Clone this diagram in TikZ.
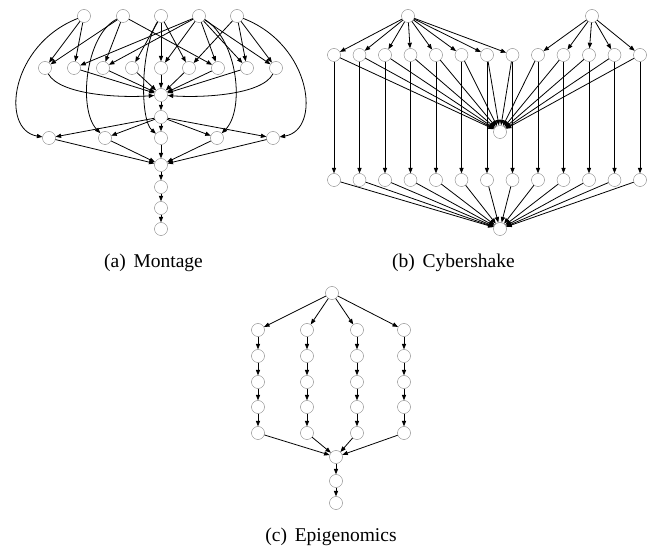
\documentclass[tikz,border=0pt]{standalone}
\usepackage{fontspec}
\setmainfont{Liberation Serif}
\usetikzlibrary{arrows.meta}

\tikzset{
	task/.style={circle,draw=gray,inner sep=0pt,minimum size=13pt},
	dep/.style={-{Triangle[length=5.5pt,width=4.2pt]},line width=0.8pt},
	caption/.style={anchor=base,font=\fontsize{19.5}{23}\selectfont}
}

\begin{document}
\begin{tikzpicture}[x=1pt,y=-1pt]
		\useasboundingbox (0,0) rectangle (649,548);

		% (a) montage
		\foreach \i/\x in {1/84,2/123,3/161,4/199,5/237}
			\node[task] (mp\i) at (\x,16) {};
		\foreach \i/\x in {1/45,2/74,3/103,4/132,5/161,6/189,7/218,8/247,9/276}
			\node[task] (md\i) at (\x,68) {};
		\node[task] (mcf) at (161,95) {};
		\node[task] (mbm) at (161,117) {};
		\foreach \i/\x in {1/49,2/105,3/161,4/217,5/273}
			\node[task] (mb\i) at (\x,138) {};
		\node[task] (mit) at (161,165) {};
		\node[task] (mad) at (161,187) {};
		\node[task] (msh) at (161,208) {};
		\node[task] (mjp) at (161,229) {};

		\foreach \a/\b in {1/1,1/2,2/1,2/3,2/7,3/4,3/5,3/6,4/2,4/3,4/5,4/7,4/8,4/9,5/6,5/8,5/9}
			\draw[dep] (mp\a) -- (md\b);
		\foreach \b in {2,...,8}
			\draw[dep] (md\b) -- (mcf);
		\draw[dep] (md1) .. controls (60,95) and (120,98) .. (mcf);
		\draw[dep] (md9) .. controls (262,95) and (202,98) .. (mcf);
		\draw[dep] (mcf) -- (mbm);
		\foreach \b in {1,...,5} {
			\draw[dep] (mbm) -- (mb\b);
			\draw[dep] (mb\b) -- (mit);
		}
		\draw[dep] (mit) -- (mad);
		\draw[dep] (mad) -- (msh);
		\draw[dep] (msh) -- (mjp);
		% long bends down to the background jobs
		\draw[dep] (mp1) .. controls (10,45) and (0,130) .. (mb1);
		\draw[dep] (mp2) .. controls (85,35) and (78,110) .. (mb2);
		\draw[dep] (mp3) .. controls (140,50) and (140,120) .. (mb3);
		\draw[dep] (mp4) .. controls (238,40) and (245,110) .. (mb4);
		\draw[dep] (mp5) .. controls (312,45) and (322,130) .. (mb5);

		% (b) cybershake
		\node[task] (cx1) at (408,16) {};
		\node[task] (cx2) at (592,16) {};
		\foreach \i in {1,...,13} {
			\node[task] (cs\i) at ({334+25.5*(\i-1)},55) {};
			\node[task] (cp\i) at ({334+25.5*(\i-1)},180) {};
		}
		\node[task] (czs) at (500,132) {};
		\node[task] (czp) at (500,229) {};
		\foreach \i in {1,...,8}
			\draw[dep] (cx1) -- (cs\i);
		\foreach \i in {9,...,13}
			\draw[dep] (cx2) -- (cs\i);
		\foreach \i in {1,...,13} {
			\draw[dep] (cs\i) -- (czs);
			\draw[dep] (cs\i) -- (cp\i);
			\draw[dep] (cp\i) -- (czp);
		}

		% (c) epigenomics
		\node[task] (efs) at (332,293) {};
		\foreach \col/\x in {1/258,2/307,3/357,4/404}
			\foreach \row/\y in {1/330,2/356,3/382,4/407,5/433}
				\node[task] (e\col-\row) at (\x,\y) {};
		\node[task] (emp) at (336,457) {};
		\node[task] (eix) at (336,481) {};
		\node[task] (epu) at (336,503) {};
		\foreach \col in {1,...,4} {
			\draw[dep] (efs) -- (e\col-1);
			\foreach \row [count=\nxt from 2] in {1,...,4}
				\draw[dep] (e\col-\row) -- (e\col-\nxt);
			\draw[dep] (e\col-5) -- (emp);
		}
		\draw[dep] (emp) -- (eix);
		\draw[dep] (eix) -- (epu);

		\node[caption] (capa) at (153.5,268) {(a)\hspace{0.4em}Montage};
		\node[caption] (capb) at (453.5,268) {(b)\hspace{0.4em}Cybershake};
		\node[caption] (capc) at (331,541) {(c)\hspace{0.4em}Epigenomics};
	\end{tikzpicture}
\end{document}
